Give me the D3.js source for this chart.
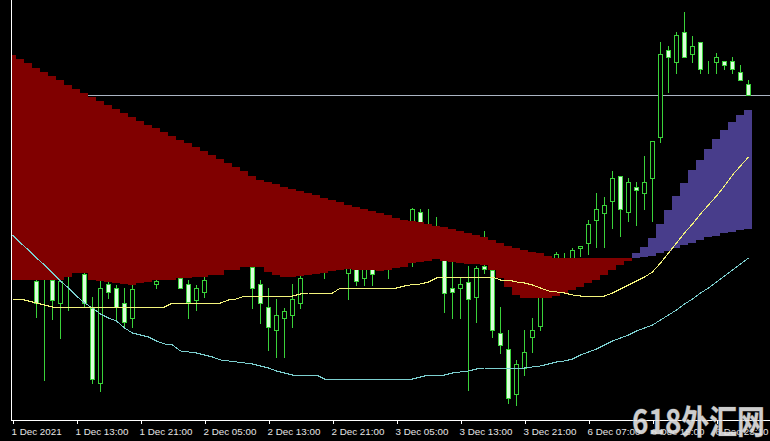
<!DOCTYPE html>
<html><head><meta charset="utf-8">
<script src="https://cdn.jsdelivr.net/npm/d3@7"></script>
<style>html,body{margin:0;padding:0;background:#000;overflow:hidden}</style>
</head><body>
<svg id="c" width="770" height="441"></svg>
<script>
const timeLabels = ["1 Dec 2021","1 Dec 13:00","1 Dec 21:00","2 Dec 05:00","2 Dec 13:00","2 Dec 21:00","3 Dec 05:00","3 Dec 13:00","3 Dec 21:00","6 Dec 07:00","6 Dec 15:00","6 Dec 23:10"];
const labelBars = [0,8,16,24,32,40,48,56,64,72,80,88];

const open = [1.1138,1.1130,1.1132,1.1119,1.1121,1.1120,1.1097,1.1124,1.1128,1.1126,
 1.1092,1.1017,1.1116,1.1112,1.1097,1.1082,1.1120,1.1124,1.1116,1.1121,
 1.1124,1.1122,1.1116,1.1100,1.1108,1.1126,1.1130,1.1132,1.1135,1.1138,
 1.1133,1.1116,1.1093,1.1070,1.1082,1.1085,1.1097,1.1126,1.1130,1.1132,
 1.1134,1.1138,1.1127,1.1134,1.1122,1.1132,1.1130,1.1134,1.1138,1.1145,
 1.1174,1.1188,1.1160,1.1168,1.1160,1.1112,1.1112,1.1118,1.1103,1.1134,
 1.1130,1.1067,1.1051,1.1006,1.1032,1.1063,1.1074,1.1104,1.1125,1.1136,
 1.1142,1.1152,1.1157,1.1180,1.1187,1.1199,1.1224,1.1188,1.1213,1.1207,
 1.1222,1.1263,1.1350,1.1338,1.1368,1.1346,1.1358,1.1335,1.1338,1.1339,
 1.1339,1.1328,1.1316];
const high = [1.1142,1.1135,1.1138,1.1124,1.1132,1.1128,1.1125,1.1134,1.1138,1.1132,
 1.1103,1.1119,1.1118,1.1115,1.1112,1.1115,1.1128,1.1130,1.1124,1.1130,
 1.1132,1.1128,1.1120,1.1115,1.1128,1.1138,1.1138,1.1142,1.1145,1.1150,
 1.1142,1.1120,1.1112,1.1101,1.1092,1.1116,1.1130,1.1138,1.1142,1.1142,
 1.1145,1.1145,1.1142,1.1140,1.1138,1.1138,1.1142,1.1145,1.1155,1.1178,
 1.1192,1.1191,1.1191,1.1183,1.1170,1.1138,1.1123,1.1134,1.1134,1.1169,
 1.1135,1.1093,1.1070,1.1040,1.1070,1.1082,1.1110,1.1132,1.1148,1.1147,
 1.1152,1.1154,1.1180,1.1207,1.1203,1.1229,1.1224,1.1222,1.1218,1.1244,
 1.1259,1.1358,1.1354,1.1368,1.1388,1.1364,1.1358,1.1339,1.1347,1.1339,
 1.1343,1.1335,1.1320];
const low = [1.1124,1.1122,1.1121,1.1083,1.1020,1.1081,1.1062,1.1090,1.1128,1.1093,
 1.1017,1.1009,1.1102,1.1081,1.1074,1.1073,1.1118,1.1119,1.1112,1.1121,
 1.1121,1.1112,1.1082,1.1090,1.1103,1.1126,1.1126,1.1131,1.1132,1.1134,
 1.1092,1.1077,1.1050,1.1043,1.1043,1.1073,1.1092,1.1126,1.1127,1.1122,
 1.1130,1.1132,1.1101,1.1115,1.1115,1.1115,1.1130,1.1122,1.1134,1.1140,
 1.1134,1.1150,1.1152,1.1150,1.1088,1.1082,1.1082,1.1010,1.1078,1.1127,
 1.1063,1.1047,1.0997,1.0995,1.1025,1.1048,1.1070,1.1103,1.1123,1.1130,
 1.1135,1.1144,1.1146,1.1153,1.1153,1.1172,1.1164,1.1179,1.1175,1.1191,
 1.1179,1.1258,1.1308,1.1327,1.1343,1.1338,1.1327,1.1327,1.1327,1.1331,
 1.1327,1.1320,1.1305];
const close = [1.1130,1.1132,1.1122,1.1097,1.1125,1.1100,1.1119,1.1128,1.1132,1.1097,
 1.1021,1.1112,1.1108,1.1093,1.1078,1.1111,1.1124,1.1122,1.1119,1.1124,
 1.1125,1.1112,1.1098,1.1112,1.1120,1.1130,1.1128,1.1135,1.1138,1.1140,
 1.1112,1.1097,1.1073,1.1085,1.1089,1.1101,1.1122,1.1130,1.1132,1.1134,
 1.1138,1.1135,1.1134,1.1119,1.1132,1.1126,1.1134,1.1138,1.1145,1.1176,
 1.1191,1.1160,1.1168,1.1160,1.1107,1.1108,1.1116,1.1101,1.1132,1.1131,
 1.1070,1.1055,1.1002,1.1036,1.1048,1.1070,1.1104,1.1125,1.1146,1.1141,
 1.1150,1.11535,1.1176,1.1191,1.1195,1.1222,1.1191,1.1218,1.1210,1.1218,
 1.1259,1.1346,1.1343,1.1365,1.1343,1.1354,1.1331,1.1335,1.1343,1.1335,
 1.1331,1.1320,1.1305];

const spanA = [1.1120,1.1120,1.1120,1.1120,1.1120,1.1120,1.1120,1.1123,1.1127,1.1127,
 1.1120,1.1119,1.1118,1.1117,1.1116,1.1115,1.1117,1.1118,1.1120,1.1120,
 1.1120,1.1122,1.1122,1.1123,1.1123,1.1125,1.1125,1.1130,1.1130,1.1133,
 1.1133,1.1133,1.1128,1.1125,1.1123,1.1123,1.1124,1.1125,1.1126,1.1127,
 1.1129,1.1130,1.1131,1.1130,1.1130,1.1130,1.1129,1.1130,1.1132,1.1133,
 1.1137,1.1138,1.1139,1.1141,1.1139,1.1138,1.1137,1.1136,1.1136,1.1135,
 1.1130,1.1122,1.1113,1.1105,1.1102,1.1102,1.1102,1.1102,1.1104,1.1107,
 1.1110,1.1113,1.1117,1.1120,1.1125,1.1130,1.1135,1.1139,1.1147,1.1153,
 1.1162,1.1176,1.1190,1.1204,1.1217,1.1230,1.1240,1.1251,1.1261,1.1270,
 1.1278,1.1285,1.1290];
const spanB = [1.1345,1.1341,1.1337,1.1332,1.1328,1.1324,1.1320,1.1315,1.1311,1.1307,
 1.1303,1.1299,1.1295,1.1291,1.1287,1.1283,1.1279,1.1275,1.1272,1.1268,
 1.1264,1.1260,1.1257,1.1253,1.1249,1.1245,1.1241,1.1237,1.1233,1.1229,
 1.1224,1.1220,1.1218,1.1216,1.1213,1.1211,1.1209,1.1207,1.1205,1.1202,
 1.1200,1.1198,1.1195,1.1193,1.1191,1.1189,1.1187,1.1185,1.1182,1.1180,
 1.1179,1.1178,1.1176,1.1174,1.1173,1.1171,1.1169,1.1167,1.1165,1.1163,
 1.1160,1.1157,1.1154,1.1152,1.1150,1.1148,1.1147,1.1144,1.1142,1.1142,
 1.1142,1.1142,1.1142,1.1142,1.1142,1.1142,1.1142,1.1142,1.1142,1.1143,
 1.1144,1.1147,1.1149,1.1152,1.1155,1.1157,1.1160,1.1163,1.1164,1.1167,
 1.1168,1.1170,1.1171];

const yellowLine = [1.1101,1.1101,1.1099,1.1097,1.1095,
 1.1093,1.1093,1.1093,1.1093,1.1093,1.1093,1.1093,1.1093,1.1093,1.1093,1.1093,1.1093,1.1093,1.1093,1.1093,
 1.1097,1.1097,1.1097,1.1097,1.1097,1.1097,1.1097,
 1.1100,1.1101,
 1.1104,1.1104,1.1104,1.1104,1.1104,1.1104,1.1104,
 1.1106,
 1.1107,1.1107,1.1107,1.1107,
 1.1112,1.1112,1.1112,1.1112,1.1112,1.1112,1.1112,1.1112,
 1.1114,1.11155,1.1116,1.1118,
 1.1122,
 1.1123,1.1123,1.1123,1.1123,1.1123,1.1123,1.1123,
 1.1120,1.1120,1.1118,1.1117,1.1115,1.1112,1.1109,1.1108,1.1107,1.1105,1.1104,1.1104,1.1104,1.1104,
 1.1107,1.1111,1.1115,1.1119,1.1123,1.1128,1.1137,1.1147,1.1157,1.1167,1.1176,1.1186,1.1195,1.1204,1.1214,1.1225,1.1234,1.1243];
const cyanLine = [1.1165,1.1157,1.1150,1.1142,1.1135,1.1127,1.1119,1.1112,1.1104,1.1097,
 1.1092,1.1086,1.1082,1.1079,1.1072,1.1067,1.1065,1.1063,1.1059,1.1056,
 1.1055,1.1049,1.1048,1.1047,1.1045,1.1043,1.1040,1.1039,1.1038,1.1037,
 1.1036,1.1034,1.1032,1.1029,1.1027,1.1025,1.1025,1.1025,1.1025,1.1021,
 1.1021,1.1021,1.1021,1.1021,1.1021,1.1021,1.1021,1.1021,1.1021,1.1021,
 1.1021,1.1023,1.1025,1.1025,1.1025,1.1027,1.1028,1.1029,1.1031,1.1032,
 1.1032,1.1032,1.1032,1.1032,1.1032,1.1033,1.1034,1.1036,1.1038,1.1039,
 1.1041,1.1045,1.1048,1.1051,1.1055,1.1059,1.1062,1.1065,1.1069,1.1072,
 1.1075,1.1080,1.1085,1.1090,1.1096,1.1101,1.1107,1.1112,1.1118,1.1124,
 1.1130,1.1136,1.1142];

const N = close.length;
const svg = d3.select("#c");
const W = 770, H = 441, plotLeft = 12, plotBottom = 420;
const x = d3.scaleLinear().domain([0, N - 1]).range([12, 748]);
const y = d3.scaleLinear().domain([1.0980, 1.1400]).range([420, 0]);

svg.append("rect").attr("width", W).attr("height", H).attr("fill", "#000");
svg.append("defs").append("clipPath").attr("id", "plot")
  .append("rect").attr("x", plotLeft).attr("y", 0).attr("width", W - plotLeft).attr("height", plotBottom);

const g = svg.append("g").attr("clip-path", "url(#plot)").attr("shape-rendering", "crispEdges");
const px = v => Math.round(v);

// bid line
const bidY = px(y(close[N - 1])) + 0.5;
g.append("line").attr("x1", plotLeft).attr("x2", W).attr("y1", bidY).attr("y2", bidY)
  .attr("stroke", "#aab4c2").attr("stroke-width", 1);

// candles
const GREEN = "#3ad23a";
const idx = d3.range(N);
const cg = g.append("g");
cg.selectAll("line.wick").data(idx).join("line").attr("class", "wick")
  .attr("x1", i => px(x(i)) + 0.5).attr("x2", i => px(x(i)) + 0.5)
  .attr("y1", i => px(y(high[i]))).attr("y2", i => px(y(low[i])) + 1)
  .attr("stroke", GREEN).attr("stroke-width", 1);
cg.selectAll("rect.body").data(idx).join("rect").attr("class", "body")
  .attr("x", i => px(x(i)) - 2 + 0.5)
  .attr("width", 4)
  .attr("y", i => px(Math.min(y(open[i]), y(close[i]))) + 0.5)
  .attr("height", i => Math.max(0, px(Math.abs(y(open[i]) - y(close[i])))))
  .attr("fill", i => close[i] >= open[i] ? "#000" : "#dcffdc")
  .attr("stroke", GREEN).attr("stroke-width", 1);

// cloud histogram
g.append("g").selectAll("rect").data(idx).join("rect")
  .attr("x", i => px(x(i)) - 4)
  .attr("width", 8)
  .attr("y", i => px(Math.min(y(spanA[i]), y(spanB[i]))))
  .attr("height", i => px(Math.abs(y(spanA[i]) - y(spanB[i]))))
  .attr("fill", i => spanA[i] > spanB[i] ? "#483d8b" : "#800000");

// lines
const lineGen = arr => d3.line().x((d, i) => px(x(i)) + 0.5).y(d => y(d))(arr);
g.append("path").attr("d", lineGen(cyanLine)).attr("fill", "none")
  .attr("stroke", "#7ccfcf").attr("stroke-width", 1);
g.append("path").attr("d", lineGen(yellowLine)).attr("fill", "none")
  .attr("stroke", "#f4f47c").attr("stroke-width", 1);

// frame
svg.append("line").attr("x1", 11.5).attr("x2", 11.5).attr("y1", 0).attr("y2", 421)
  .attr("stroke", "#ffffff").attr("shape-rendering", "crispEdges");
svg.append("line").attr("x1", 11).attr("x2", W).attr("y1", 420.5).attr("y2", 420.5)
  .attr("stroke", "#ffffff").attr("shape-rendering", "crispEdges");

// x axis
const axis = d3.axisBottom(x).tickValues(labelBars)
  .tickFormat((d, i) => timeLabels[i]).tickSize(4).tickSizeOuter(0).tickPadding(3);
const ax = svg.append("g").attr("transform", "translate(0.5,420)").call(axis);
ax.select(".domain").remove();
ax.selectAll(".tick line").attr("stroke", "#ffffff").attr("shape-rendering", "crispEdges");
ax.selectAll(".tick text").attr("fill", "#e6e6e6").attr("text-anchor", "start")
  .attr("dx", -1.5).attr("y", 8)
  .style("font-family", "'Liberation Sans', Arial, sans-serif").style("font-size", "9.8px");

// watermark
svg.append("text").attr("x", 632).attr("y", 434).text("618外汇网")
  .attr("textLength", 133).attr("lengthAdjust", "spacingAndGlyphs")
  .style("font-family", "'Noto Sans CJK SC', sans-serif").style("font-weight", "700")
  .style("font-size", "33px").attr("fill", "#e4e4e4")
  .attr("stroke", "#555").attr("stroke-width", 0.8).attr("paint-order", "stroke")
  .attr("opacity", 0.9);
</script>
</body></html>
